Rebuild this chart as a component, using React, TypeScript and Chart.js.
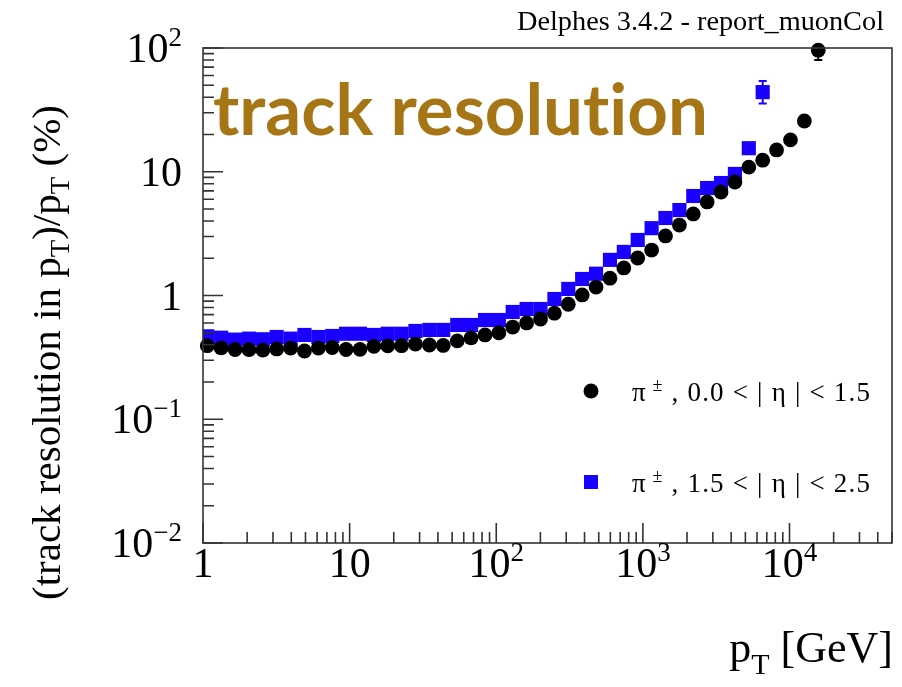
import React, { useEffect, useRef } from 'react';
import { Chart, registerables } from 'chart.js';
Chart.register(...registerables);

// ---- data ----
const ptBins = [1.07, 1.33, 1.654, 2.06, 2.56, 3.18, 3.96, 4.92, 6.12, 7.61, 9.46, 11.77, 14.64, 18.2, 22.6, 28.1, 35.0, 43.5, 54.2, 67.3, 83.8, 104.2, 129.5, 161.1, 200.4, 249.2, 309.9, 385.4, 479.3, 596.2, 741.3, 922, 1147, 1426, 1774, 2206, 2743, 3412, 4243, 5277, 6561, 8160, 10150, 12620, 15700];

const resCentral = [0.393, 0.377, 0.366, 0.365, 0.362, 0.37, 0.376, 0.356, 0.376, 0.38, 0.366, 0.367, 0.388, 0.392, 0.393, 0.405, 0.398, 0.395, 0.43, 0.454, 0.48, 0.5, 0.556, 0.6, 0.646, 0.72, 0.85, 1.01, 1.17, 1.38, 1.67, 2.01, 2.33, 3.03, 3.71, 4.56, 5.7, 6.86, 8.26, 10.9, 12.4, 15.0, 18.1, 25.7, 96];

const resForward = [0.468, 0.456, 0.44, 0.448, 0.443, 0.462, 0.448, 0.48, 0.462, 0.471, 0.491, 0.491, 0.48, 0.491, 0.491, 0.517, 0.527, 0.527, 0.578, 0.578, 0.634, 0.634, 0.736, 0.778, 0.778, 0.937, 1.13, 1.36, 1.5, 1.94, 2.25, 2.81, 3.5, 4.23, 4.9, 6.37, 7.39, 8.11, 9.6, 15.5, 44];

const centralErrIndex = [44];
const centralErrLow = [80];
const centralErrHigh = [112];
const forwardErrIndex = [40];
const forwardErrLow = [35.6];
const forwardErrHigh = [54];

const xTickValues = [1, 10, 100, 1000, 10000];
const xTickBase = ['1', '10', '10', '10', '10'];
const xTickExp = ['', '', '2', '3', '4'];
const yTickValues = [0.01, 0.1, 1, 10, 100];
const yTickBase = ['10', '10', '1', '10', '10'];
const yTickExp = ['\u22122', '\u22121', '', '', '2'];

const X_MIN = 1;
const X_MAX = 50000;
const Y_MIN = 0.01;
const Y_MAX = 100;

const BLUE = '#1a00ff';
const GOLD = '#a67616';
const AXIS = '#333333';
const LABEL_FONT = 42;
const EXP_FONT = 27;

function drawLabel(ctx: CanvasRenderingContext2D, base: string, exp: string, x: number, y: number, align: 'center' | 'right') {
  ctx.font = `${LABEL_FONT}px "Liberation Serif"`;
  const wb = ctx.measureText(base).width;
  ctx.font = `${EXP_FONT}px "Liberation Serif"`;
  const we = exp ? ctx.measureText(exp).width : 0;
  const total = wb + we;
  const start = align === 'center' ? x - total / 2 : x - total;
  ctx.textAlign = 'left';
  ctx.textBaseline = 'alphabetic';
  ctx.fillStyle = '#000';
  ctx.font = `${LABEL_FONT}px "Liberation Serif"`;
  ctx.fillText(base, start, y);
  if (exp) {
    ctx.font = `${EXP_FONT}px "Liberation Serif"`;
    ctx.fillText(exp, start + wb, y - 16);
  }
}

const rootPlugin = {
  id: 'rootStyle',
  beforeDatasetsDraw(chart: any) {
    const ctx = chart.ctx as CanvasRenderingContext2D;
    const xs = chart.scales.x;
    const ys = chart.scales.y;
    const area = chart.chartArea;
    const drawErr = (idx: number[], lo: number[], hi: number[], color: string, capTop: boolean) => {
      ctx.save();
      ctx.strokeStyle = color;
      ctx.lineWidth = 2;
      idx.forEach((i, k) => {
        const px = xs.getPixelForValue(ptBins[i]);
        const yLo = ys.getPixelForValue(lo[k]);
        const yHi = Math.max(area.top, ys.getPixelForValue(hi[k]));
        ctx.beginPath();
        ctx.moveTo(px, yLo);
        ctx.lineTo(px, yHi);
        ctx.moveTo(px - 4, yLo);
        ctx.lineTo(px + 4, yLo);
        if (capTop) {
          ctx.moveTo(px - 4, yHi);
          ctx.lineTo(px + 4, yHi);
        }
        ctx.stroke();
      });
      ctx.restore();
    };
    drawErr(forwardErrIndex, forwardErrLow, forwardErrHigh, BLUE, true);
    drawErr(centralErrIndex, centralErrLow, centralErrHigh, '#000', false);
  },
  afterDraw(chart: any) {
    const ctx = chart.ctx as CanvasRenderingContext2D;
    const xs = chart.scales.x;
    const ys = chart.scales.y;
    const a = chart.chartArea;
    ctx.save();
    ctx.strokeStyle = AXIS;
    ctx.lineWidth = 1.6;
    ctx.strokeRect(a.left, a.top, a.right - a.left, a.bottom - a.top);
    ctx.beginPath();
    for (let d = 0; d <= 4; d++) {
      for (let m = 1; m <= 9; m++) {
        const v = m * Math.pow(10, d);
        if (v < X_MIN || v > X_MAX) continue;
        const px = xs.getPixelForValue(v);
        const len = m === 1 ? 20 : 11;
        ctx.moveTo(px, a.bottom);
        ctx.lineTo(px, a.bottom - len);
      }
    }
    for (let d = -2; d <= 2; d++) {
      for (let m = 1; m <= 9; m++) {
        const v = m * Math.pow(10, d);
        if (v < Y_MIN * 0.999 || v > Y_MAX * 1.001) continue;
        const py = ys.getPixelForValue(v);
        const len = m === 1 ? 20 : 11;
        ctx.moveTo(a.left, py);
        ctx.lineTo(a.left + len, py);
      }
    }
    ctx.stroke();
    ctx.restore();
    ctx.save();
    xTickValues.forEach((v, i) => {
      drawLabel(ctx, xTickBase[i], xTickExp[i], xs.getPixelForValue(v), a.bottom + 34, 'center');
    });
    yTickValues.forEach((v, i) => {
      drawLabel(ctx, yTickBase[i], yTickExp[i], a.left - 21, ys.getPixelForValue(v) + 14, 'right');
    });
    ctx.restore();
  },
};

export default function App() {
  const ref = useRef<HTMLCanvasElement>(null);
  useEffect(() => {
    if (!ref.current) return;
    const chart = new Chart(ref.current, {
      type: 'scatter',
      data: {
        datasets: [
          {
            label: 'central',
            data: ptBins.map((x, i) => ({ x, y: resCentral[i] })),
            pointStyle: 'circle',
            pointRadius: 7.4,
            pointBorderWidth: 0,
            backgroundColor: '#000',
            borderColor: '#000',
            showLine: false,
            clip: false as any,
          },
          {
            label: 'forward',
            data: ptBins.slice(0, resForward.length).map((x, i) => ({ x, y: resForward[i] })),
            pointStyle: 'rect',
            pointRadius: 10,
            pointBorderWidth: 0,
            backgroundColor: BLUE,
            borderColor: BLUE,
            showLine: false,
          },
        ],
      },
      options: {
        responsive: false,
        animation: false,
        events: [],
        layout: { padding: { left: 203, right: 9, top: 48, bottom: 144 } },
        plugins: { legend: { display: false }, tooltip: { enabled: false }, title: { display: false } },
        scales: {
          x: { type: 'logarithmic', min: X_MIN, max: X_MAX, display: false },
          y: { type: 'logarithmic', min: Y_MIN, max: Y_MAX, display: false },
        },
      },
      plugins: [rootPlugin],
    } as any);
    return () => chart.destroy();
  }, []);

  const serif = '"Liberation Serif", "Times New Roman", serif';
  return (
    <div style={{ position: 'absolute', left: 0, top: 0, width: 902, height: 687, background: '#fff', overflow: 'hidden' }}>
      <canvas ref={ref} width={902} height={687} style={{ position: 'absolute', left: 0, top: 0, width: 902, height: 687 }} />
      <svg width={902} height={687} style={{ position: 'absolute', left: 0, top: 0, pointerEvents: 'none' }}>
        <text x={517} y={30} fontFamily={serif} fontSize={27.5} fill="#000" textLength={367} lengthAdjust="spacingAndGlyphs">Delphes 3.4.2 - report_muonCol</text>
        <text x={213} y={135} fontFamily="Lato, sans-serif" fontWeight={700} fontSize={70} fill={GOLD} textLength={495} lengthAdjust="spacingAndGlyphs">{'track resolut\u200Cion'}</text>
        <text transform="translate(60,600) rotate(-90)" fontFamily={serif} fontSize={40} fill="#000" textLength={495} lengthAdjust="spacingAndGlyphs">
          (track resolution in p<tspan dy={9} fontSize={28}>T</tspan><tspan dy={-9}>)/p</tspan><tspan dy={9} fontSize={28}>T</tspan><tspan dy={-9}> (%)</tspan>
        </text>
        <text x={893} y={662} textAnchor="end" fontFamily={serif} fontSize={44} fill="#000">
          p<tspan dy={12} fontSize={30}>T</tspan><tspan dy={-12}> [GeV]</tspan>
        </text>
        <circle cx={591} cy={391} r={7.5} fill="#000" />
        <rect x={584} y={475} width={14} height={14} fill={BLUE} />
        <text x={632} y={401} fontFamily={serif} fontSize={27} fill="#000" textLength={238} lengthAdjust="spacing">
          π<tspan dy={-10} fontSize={18}> ±</tspan><tspan dy={10}> , 0.0 &lt; | η | &lt; 1.5</tspan>
        </text>
        <text x={632} y={492} fontFamily={serif} fontSize={27} fill="#000" textLength={238} lengthAdjust="spacing">
          π<tspan dy={-10} fontSize={18}> ±</tspan><tspan dy={10}> , 1.5 &lt; | η | &lt; 2.5</tspan>
        </text>
      </svg>
    </div>
  );
}
